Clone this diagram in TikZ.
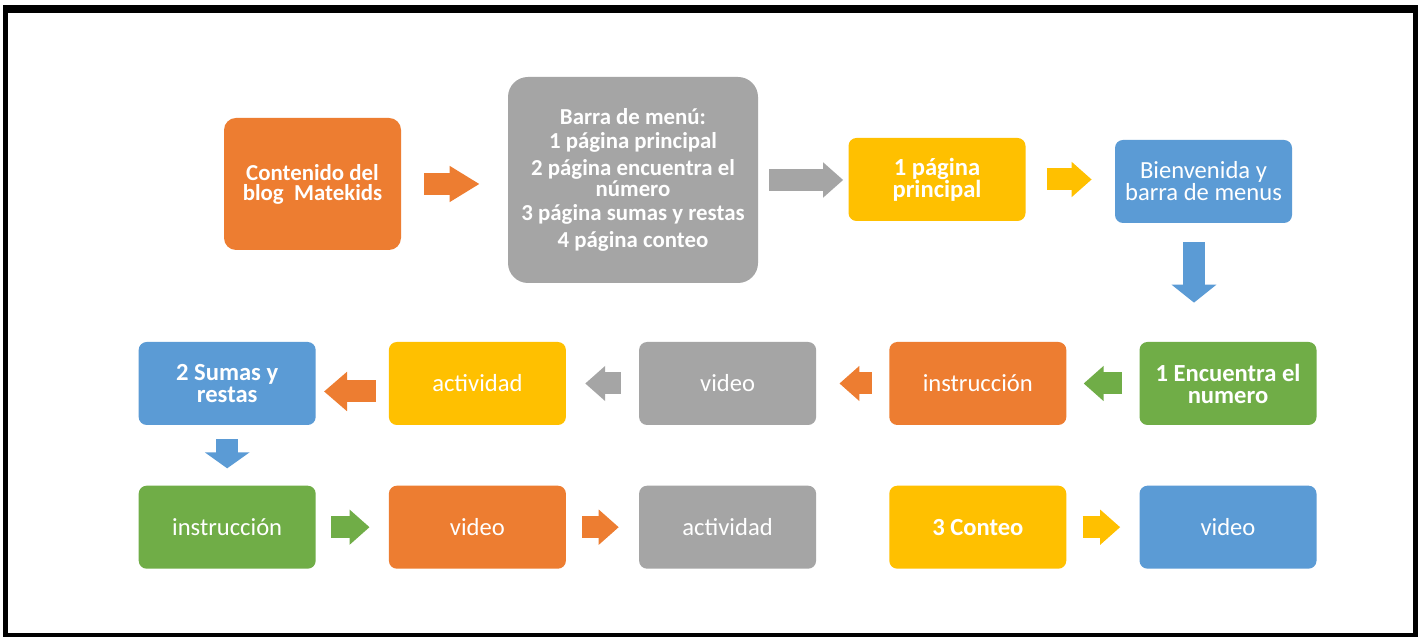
\documentclass[tikz,border=0pt]{standalone}
\usepackage{fontspec}
\setmainfont{Carlito}
\usepackage{xcolor}
\usepackage{tikz}
\usetikzlibrary{arrows.meta,positioning,calc}
\definecolor{mkorange}{HTML}{ED7D31}
\definecolor{mkgray}{HTML}{A5A5A5}
\definecolor{mkyellow}{HTML}{FFC000}
\definecolor{mkblue}{HTML}{5B9BD5}
\definecolor{mkgreen}{HTML}{70AD47}
\tikzset{
  mkbox/.style={
    rectangle, rounded corners=1.6mm, text=white, align=center,
    minimum width=35.4mm, minimum height=16.6mm, inner xsep=2pt,
    font=\fontsize{14}{12.5}\selectfont
  },
  mkboxbold/.style={mkbox,font=\bfseries\fontsize{14}{12.5}\selectfont},
  mkblog/.style={mkbox,rounded corners=2.4mm,minimum height=26.4mm,
    font=\bfseries\fontsize{13}{11.4}\selectfont},
  mkmenu/.style={mkbox,rounded corners=4mm,minimum width=50mm,minimum height=41.2mm,
    font=\bfseries\fontsize{13}{10.5}\selectfont},
  mkarrow/.style={line width=4.4mm,-{Triangle[width=6.8mm,length=4mm]}},
  mkdown/.style={line width=4.4mm,-{Triangle[width=8.8mm,length=3.6mm]}},
  mkframe/.style={fill=black}
}
\begin{document}
\begin{tikzpicture}[node distance=12mm and 14.5mm]
  \useasboundingbox (0,0) rectangle (28.4,12.8);
  \fill[white] (0,0) rectangle (28.4,12.8);
  \fill[mkframe] (0.06,0.06) rectangle (28.36,12.7);
  \fill[white] (0.16,0.14) rectangle (28.26,12.54);

  % top row
  \node[mkblog,fill=mkorange] (blog) at (6.25,9.12) {Contenido del\\blog~~Matekids};
  \node[mkmenu,fill=mkgray] (menu) at (12.66,9.2) {Barra de menú:\\[3pt]
    1 página principal\\[3pt] 2 página encuentra el\\número\\[3pt]
    3 página sumas y restas\\[3pt] 4 página conteo};
  \node[mkboxbold,fill=mkyellow] (princ) at (18.74,9.21) {1 página\\principal};
  \node[mkbox,fill=mkblue] (bienv) at (24.07,9.17) {Bienvenida y\\barra de menus};

  % second row
  \node[mkboxbold,fill=mkgreen] (encu) at (24.56,5.13) {1 Encuentra el\\numero};
  \node[mkbox,fill=mkorange,left=of encu] (instrA) {instrucción};
  \node[mkbox,fill=mkgray,left=of instrA] (videoA) {video};
  \node[mkbox,fill=mkyellow,left=of videoA] (activA) {actividad};
  \node[mkboxbold,fill=mkblue,left=of activA] (sumas) {2 Sumas y\\restas};

  % third row
  \node[mkbox,fill=mkgreen,below=of sumas] (instrB) {instrucción};
  \node[mkbox,fill=mkorange,right=of instrB] (videoB) {video};
  \node[mkbox,fill=mkgray,right=of videoB] (activB) {actividad};
  \node[mkboxbold,fill=mkyellow,below=of instrA] (conteo) {3 Conteo};
  \node[mkbox,fill=mkblue,below=of encu] (videoC) {video};

  % block arrows
  \draw[mkarrow,-{Triangle[width=6.8mm,length=6mm]},mkorange,shorten <=4.6mm,shorten >=5.6mm]
    (blog.east) -- (blog.east -| menu.west);
  \draw[mkarrow,mkgray,shorten <=2.2mm,shorten >=1mm] (menu.east) -- (menu.east -| princ.west);
  \draw[mkarrow,mkyellow,shorten <=4.2mm,shorten >=4.6mm] (princ.east) -- (princ.east -| bienv.west);
  \draw[mkdown,mkblue,shorten <=3.8mm,shorten >=7.8mm]
    ([xshift=-1.9mm]bienv.south) -- ([xshift=-1.9mm]bienv.south |- encu.north);
  \draw[mkarrow,mkgreen,shorten <=3.4mm,shorten >=3.4mm] (encu) -- (instrA);
  \draw[mkarrow,mkorange,shorten <=3.4mm,shorten >=4.6mm] (instrA) -- (videoA);
  \draw[mkarrow,mkgray,shorten <=3.6mm,shorten >=3.8mm] (videoA) -- (activA);
  \draw[mkarrow,-{Triangle[width=7.6mm,length=4.6mm]},mkorange,shorten <=2.6mm,shorten >=1.6mm]
    ([yshift=-1.6mm]activA.west) -- ([yshift=-1.6mm]sumas.east);
  \draw[mkdown,-{Triangle[width=8.8mm,length=3.2mm]},mkblue,shorten <=2.8mm,shorten >=3.4mm]
    (sumas) -- (instrB);
  \draw[mkarrow,mkgreen,shorten <=3mm,shorten >=3.8mm] (instrB) -- (videoB);
  \draw[mkarrow,mkorange,shorten <=3.2mm,shorten >=4mm] (videoB) -- (activB);
  \draw[mkarrow,mkyellow,shorten <=3.2mm,shorten >=3.8mm] (conteo) -- (videoC);
\end{tikzpicture}
\end{document}
